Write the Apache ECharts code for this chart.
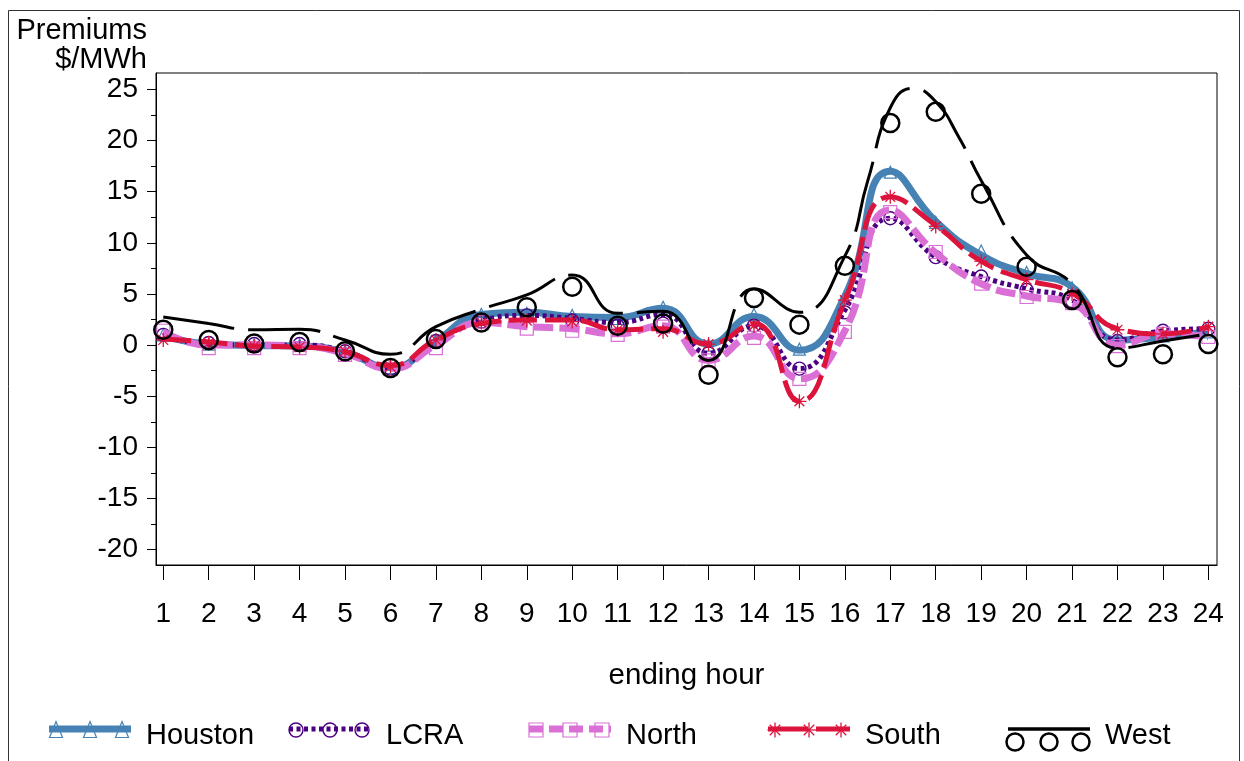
<!DOCTYPE html>
<html>
<head>
<meta charset="utf-8">
<script src="https://cdn.jsdelivr.net/npm/echarts@6/dist/echarts.min.js"></script>
<style>
  html, body { margin: 0; padding: 0; background: #fff; }
  #chart { width: 1244px; height: 761px; }
</style>
</head>
<body>
<div id="chart"></div>
<script>
// Hourly price premiums by zone, $/MWh, for hours ending 1..24
const hours = [1, 2, 3, 4, 5, 6, 7, 8, 9, 10, 11, 12, 13, 14, 15, 16, 17, 18, 19, 20, 21, 22, 23, 24];
const regions = ['Houston', 'LCRA', 'North', 'South', 'West'];

// smoothed curves, one value per hour
const houstonCurve = [0.9, 0.1, -0.05, -0.1, -0.7, -2.2, 0.4, 3.0, 3.2, 2.8, 2.7, 3.6, 0.1, 2.8, -0.5, 4.8, 17.0, 12.1, 8.8, 7.0, 5.7, 0.5, 0.8, 1.3];
const lcraCurve    = [0.8, 0.1, 0.0, 0.0, -0.6, -2.2, 0.3, 2.4, 2.9, 2.6, 2.2, 3.0, -0.8, 1.9, -2.3, 3.4, 12.4, 8.6, 6.7, 5.5, 4.4, 0.5, 1.4, 1.6];
const northCurve   = [1.3, 0.0, 0.0, -0.1, -0.8, -2.3, 0.0, 2.2, 1.8, 1.6, 1.1, 1.9, -1.5, 0.9, -3.3, 1.4, 13.2, 9.0, 6.0, 4.8, 4.1, 0.0, 1.1, 0.8];
const southCurve   = [0.6, 0.3, -0.1, -0.2, -0.65, -2.0, 0.5, 2.1, 2.45, 2.45, 1.5, 1.6, 0.1, 2.1, -5.5, 4.3, 14.5, 11.7, 8.2, 6.4, 5.1, 1.6, 1.1, 1.8];
// West curve is read at half hours around its evening peak
const westCurveHours = [1, 2, 3, 4, 5, 6, 7, 8, 9, 10, 11, 12, 13, 14, 15, 16, 16.5, 17, 17.5, 18, 18.5, 19, 20, 21, 22, 23, 24];
const westCurve      = [2.75, 2.1, 1.5, 1.55, 0.5, -0.9, 1.8, 3.5, 4.9, 6.85, 3.1, 3.3, -1.5, 5.5, 3.2, 8.7, 16.0, 23.2, 25.1, 23.8, 20.4, 16.1, 8.8, 6.0, -0.3, 0.4, 1.1];

// observed hourly premiums
const houstonPoints = [1.0, 0.1, 0.0, 0.0, -0.6, -2.2, 0.5, 3.0, 3.1, 2.9, 2.6, 3.7, 0.0, 3.0, -0.4, 4.6, 16.9, 12.0, 9.2, 7.1, 5.6, 0.4, 0.9, 1.3];
const lcraPoints    = [1.0, 0.2, 0.1, 0.1, -0.6, -2.3, 0.4, 2.3, 2.9, 2.4, 1.9, 2.1, -0.8, 1.9, -2.3, 3.2, 12.4, 8.6, 6.7, 5.4, 4.3, 0.4, 1.4, 1.6];
const northPoints   = [1.4, -0.3, -0.3, -0.3, -0.95, -2.35, -0.3, 2.3, 1.6, 1.4, 1.0, 1.8, -1.5, 0.7, -3.3, 1.3, 13.0, 9.1, 6.0, 4.7, 4.1, -0.1, 1.1, 0.8];
const southPoints   = [0.5, 0.2, -0.1, -0.2, -0.6, -2.1, 0.5, 2.2, 2.4, 2.3, 1.5, 1.3, 0.1, 1.9, -5.5, 4.4, 14.5, 11.6, 8.2, 6.4, 5.0, 1.5, 1.1, 1.8];
const westPoints    = [1.5, 0.5, 0.15, 0.3, -0.6, -2.25, 0.6, 2.2, 3.7, 5.7, 1.9, 2.1, -2.9, 4.6, 2.0, 7.75, 21.7, 22.8, 14.8, 7.65, 4.4, -1.2, -0.9, 0.1];

// axis ticks
const yTicks = [-20, -15, -10, -5, 0, 5, 10, 15, 20, 25];
const yMinorTicks = [-17.5, -12.5, -7.5, -2.5, 2.5, 7.5, 12.5, 17.5, 22.5];

const curveHours = [hours, hours, hours, hours, westCurveHours];
const curves = [houstonCurve, lcraCurve, northCurve, southCurve, westCurve];
const points = [houstonPoints, lcraPoints, northPoints, southPoints, westPoints];

const FONT = '"Liberation Sans", Arial, Helvetica, sans-serif';
const ASTERISK = 'path://M0,5L10,5M5,0L5,10M1.5,1.5L8.5,8.5M1.5,8.5L8.5,1.5';

const styles = [
  { color: '#4682B4', width: 7, dash: 'solid', marker: 'triangle', size: 12, mw: 1.2 },
  { color: '#4B0082', width: 5, dash: [4, 3.5], marker: 'circle', size: 13, mw: 1.4 },
  { color: '#DA70D6', width: 7, dash: [20, 6], marker: 'rect', size: 13, mw: 1.2 },
  { color: '#DC143C', width: 5, dash: [28, 8], marker: ASTERISK, size: 14, mw: 1.3 },
  { color: '#000000', width: 3, dash: [72, 14], marker: 'circle', size: 18, mw: 2.5 }
];

const series = [];
regions.forEach((name, k) => {
  const st = styles[k];
  series.push({
    name: name,
    type: 'line',
    data: curveHours[k].map((h, i) => [h, curves[k][i]]),
    smooth: 0.5,
    showSymbol: false,
    silent: true,
    lineStyle: { color: st.color, width: st.width, type: st.dash, cap: 'butt' },
    z: 2 + k * 2
  });
  series.push({
    name: name,
    type: 'scatter',
    data: hours.map((h, i) => [h, points[k][i]]),
    symbol: st.marker,
    symbolSize: st.size,
    silent: true,
    itemStyle: {
      color: 'rgba(0,0,0,0)',
      borderColor: st.color,
      borderWidth: st.mw,
      opacity: 1
    },
    z: 3 + k * 2
  });
});

// legend swatches: a short stroke with three markers, then the zone name
const legendLeft = [49, 289, 529, 768, 1008];
const legendGraphics = [];
function markerShape(kind, cx, cy, size, color, lw) {
  const style = { fill: 'none', stroke: color, lineWidth: lw };
  const h = size / 2;
  if (kind === 'triangle') {
    return { type: 'polygon', shape: { points: [[cx, cy - h - 2], [cx + h, cy + h + 1], [cx - h, cy + h + 1]] }, style };
  }
  if (kind === 'rect') {
    return { type: 'rect', shape: { x: cx - h, y: cy - h, width: size, height: size }, style };
  }
  if (kind === ASTERISK) {
    const d = h * 0.7;
    const spokes = [[-h, 0, h, 0], [0, -h, 0, h], [-d, -d, d, d], [-d, d, d, -d]];
    return {
      type: 'group',
      children: spokes.map(s => ({
        type: 'line',
        shape: { x1: cx + s[0], y1: cy + s[1], x2: cx + s[2], y2: cy + s[3] },
        style
      }))
    };
  }
  return { type: 'circle', shape: { cx, cy, r: h }, style };
}
regions.forEach((name, k) => {
  const st = styles[k];
  const x0 = legendLeft[k];
  const lineY = 729;
  const markY = k === 4 ? 742 : 730;
  legendGraphics.push({
    type: 'line',
    shape: { x1: x0, y1: lineY, x2: x0 + 82, y2: lineY },
    style: { stroke: st.color, lineWidth: k === 4 ? 3.5 : st.width, lineDash: k === 0 || k === 4 ? null : (k === 1 ? [4, 3.5] : (k === 2 ? [14, 6] : [40, 8])) }
  });
  [7, 41, 73].forEach(dx => {
    legendGraphics.push(markerShape(st.marker, x0 + dx, markY, k === 4 ? 17 : st.size + 1, st.color, st.mw));
  });
  legendGraphics.push({
    type: 'text',
    x: x0 + 97, y: 736,
    style: { text: name, font: `29px ${FONT}`, fill: '#000', verticalAlign: 'middle', align: 'left' }
  });
});

const chart = echarts.init(document.getElementById('chart'), null, { renderer: 'canvas' });
chart.setOption({
  animation: false,
  backgroundColor: '#ffffff',
  textStyle: { fontFamily: FONT, color: '#000' },
  grid: {
    left: 156, right: 27, top: 73, bottom: 196,
    show: true, borderColor: '#000', borderWidth: 1, backgroundColor: 'transparent'
  },
  xAxis: {
    type: 'value',
    min: 0.84, max: 24.19,
    axisLine: { show: true, onZero: false, lineStyle: { color: '#000', width: 1 } },
    axisTick: { show: true, length: 15, customValues: hours, lineStyle: { color: '#000' } },
    axisLabel: { customValues: hours, fontSize: 28, color: '#000', margin: 35, fontFamily: FONT },
    splitLine: { show: false },
    name: 'ending hour',
    nameLocation: 'middle',
    nameGap: 111,
    nameTextStyle: { fontSize: 29.5, color: '#000', verticalAlign: 'middle', fontFamily: FONT }
  },
  yAxis: [
    {
      type: 'value',
      min: -21.5, max: 26.6,
      axisLine: { show: true, onZero: false, lineStyle: { color: '#000', width: 1 } },
      axisTick: { show: true, length: 9, customValues: yTicks, lineStyle: { color: '#000' } },
      axisLabel: { customValues: yTicks, fontSize: 28, color: '#000', margin: 18, fontFamily: FONT },
      splitLine: { show: false },
      name: 'Premiums\n$/MWh',
      nameLocation: 'end',
      nameGap: -1,
      nameTextStyle: {
        fontSize: 29, lineHeight: 29, color: '#000', fontFamily: FONT,
        align: 'right', verticalAlign: 'bottom', padding: [0, 9, 0, 0]
      }
    },
    {
      type: 'value',
      min: -21.5, max: 26.6,
      position: 'left',
      axisLine: { show: false, onZero: false },
      axisTick: { show: true, length: 5, customValues: yMinorTicks, lineStyle: { color: '#000' } },
      axisLabel: { show: false },
      splitLine: { show: false }
    }
  ],
  series: series,
  graphic: [
    {
      type: 'rect',
      shape: { x: 8.5, y: 10.5, width: 1231, height: 800 },
      style: { fill: 'none', stroke: '#333', lineWidth: 1 },
      silent: true
    },
    ...legendGraphics
  ]
});
</script>
</body>
</html>
